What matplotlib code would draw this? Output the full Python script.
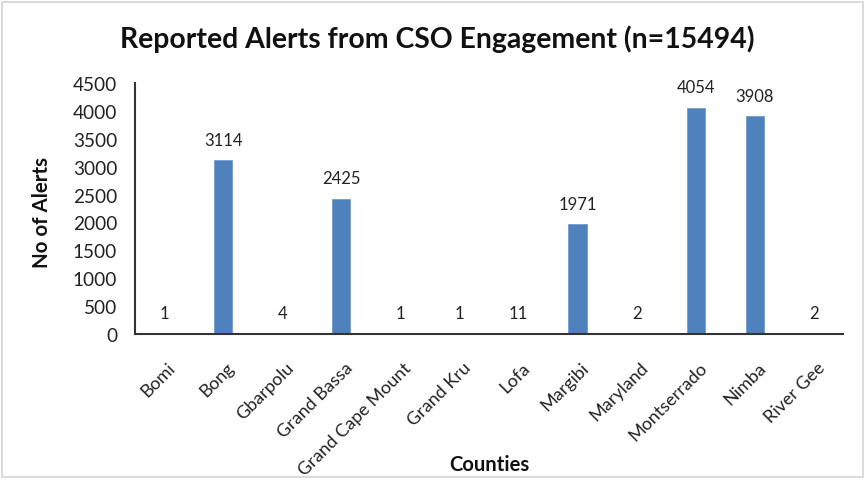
import matplotlib
matplotlib.use("Agg")
import matplotlib.pyplot as plt
from matplotlib.patches import Rectangle
from matplotlib.transforms import ScaledTranslation

counties = ["Bomi", "Bong", "Gbarpolu", "Grand Bassa", "Grand Cape Mount", "Grand Kru",
            "Lofa", "Margibi", "Maryland", "Montserrado", "Nimba", "River Gee"]
alerts = [1, 3114, 4, 2425, 1, 1, 11, 1971, 2, 4054, 3908, 2]
yticks = [0, 500, 1000, 1500, 2000, 2500, 3000, 3500, 4000, 4500]

plt.rcParams['font.family'] = ['Lato', 'DejaVu Sans']

W, H = 868, 481
fig = plt.figure(figsize=(W / 100, H / 100), dpi=100)
ax = fig.add_axes([134.5 / W, 1 - 335 / H, (843.5 - 134.5) / W, (335 - 84) / H])
x = list(range(len(counties)))
ax.bar(x, alerts, width=0.31, color="#4F81BD", edgecolor="#6a95c8", linewidth=0.5)
for xi, v in zip(x, alerts):
    ax.annotate(str(v), (xi, v), xytext=(0, 9), textcoords="offset points",
                ha="center", va="bottom", fontsize=12, color="#222222")

ax.set_xlim(-0.5, len(counties) - 0.5)
ax.set_ylim(0, 4500)
ax.set_yticks(yticks)
ax.set_yticklabels([str(t) for t in yticks], fontsize=13, color="#222222")
ax.set_xticks(x)
ax.set_xticklabels(counties, rotation=45, ha="right", rotation_mode="anchor",
                   fontsize=13, color="#222222")
ax.tick_params(axis="y", length=0, pad=12.5)
ax.tick_params(axis="x", length=0, pad=18)
off = ScaledTranslation(3 / 100, 0, fig.dpi_scale_trans)
for lab in ax.get_xticklabels():
    lab.set_transform(lab.get_transform() + off)
for s in ["top", "right"]:
    ax.spines[s].set_visible(False)
for s in ["left", "bottom"]:
    ax.spines[s].set_color("#333333")
    ax.spines[s].set_linewidth(1.5)

ylab = fig.text(42 / W, 1 - 212 / H, "No of Alerts", rotation=90, ha="center", va="center",
                fontsize=15, fontweight="bold", color="#111111")
xlab = fig.text(489 / W, 1 - 465 / H, "Counties", ha="center", va="center",
                fontsize=14.5, fontweight="bold", color="#111111")
title = fig.text(120 / W, 1 - 48 / H, "Reported Alerts from CSO Engagement (n=15494)",
                 ha="left", va="baseline", fontsize=20.5, fontweight="bold", color="#111111")

# fit font sizes to measured extents of the reference
fig.canvas.draw()
r = fig.canvas.get_renderer()

def fit(t, target, use_height=False):
    bb = t.get_window_extent(r)
    size = bb.height if use_height else bb.width
    t.set_fontsize(t.get_fontsize() * target / size)

fit(title, 634)
fit(ylab, 112, use_height=True)
fit(xlab, 80)
tl = ax.get_yticklabels()[-1]
bb = tl.get_window_extent(r)
ax.tick_params(axis="y", labelsize=13 * 44 / bb.width)

fig.patches.append(Rectangle((2 / W, 3 / H), 861 / W, 475 / H, transform=fig.transFigure,
                             fill=False, edgecolor="#d4d4d4", linewidth=1.2))

fig.savefig("out.png", dpi=100)
